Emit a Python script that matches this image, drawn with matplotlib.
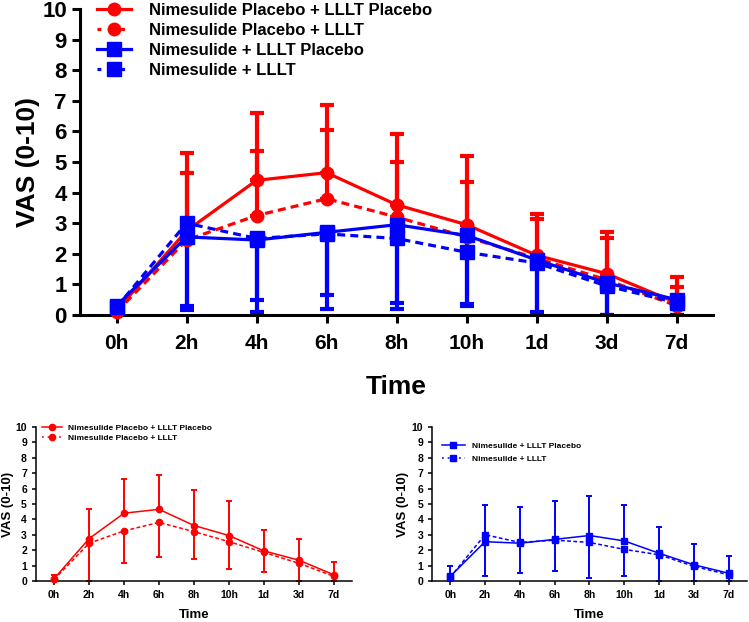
import numpy as np
import matplotlib
matplotlib.use("Agg")
import matplotlib.pyplot as plt
from matplotlib.lines import Line2D

plt.rcParams['font.family'] = ['Liberation Sans', 'DejaVu Sans']
plt.rcParams['font.weight'] = 'bold'

# time points
time_labels = ["0h", "2h", "4h", "6h", "8h", "10h", "1d", "3d", "7d"]

# Nimesulide Placebo + LLLT Placebo
red_solid_mean = [0.15, 2.75, 4.40, 4.65, 3.60, 2.95, 1.95, 1.35, 0.40]
red_solid_sd = [0.25, 1.90, 2.20, 2.20, 2.30, 2.25, 1.35, 1.35, 0.85]
# Nimesulide Placebo + LLLT
red_dash_mean = [0.10, 2.45, 3.25, 3.80, 3.20, 2.55, 1.85, 1.15, 0.30]
red_dash_sd = [0.30, 2.85, 2.10, 2.25, 1.80, 1.80, 1.30, 1.35, 0.60]
# Nimesulide + LLLT Placebo
blue_solid_mean = [0.30, 2.55, 2.45, 2.70, 2.95, 2.60, 1.80, 1.05, 0.50]
blue_solid_sd = [0.65, 2.40, 2.35, 2.50, 2.55, 2.30, 1.70, 1.35, 1.15]
# Nimesulide + LLLT
blue_dash_mean = [0.25, 3.00, 2.50, 2.65, 2.50, 2.05, 1.70, 0.95, 0.40]
blue_dash_sd = [0.70, 2.70, 2.00, 2.00, 2.30, 1.70, 1.75, 1.20, 0.60]

labels = ["Nimesulide Placebo + LLLT Placebo", "Nimesulide Placebo + LLLT",
          "Nimesulide + LLLT Placebo", "Nimesulide + LLLT"]

RED = '#ff0000'
BLUE = '#0000ff'
x = np.arange(len(time_labels))


def draw_series(ax, mean, sd, color, marker, dashed, side, lw, ms, elw, cap):
    mean = np.array(mean)
    sd = np.array(sd)
    zeros = np.zeros_like(sd)
    if side == 'up':
        yerr = [zeros, sd]
    else:
        yerr = [np.minimum(sd, mean), zeros]
    ax.errorbar(x, mean, yerr=yerr, fmt='none', ecolor=color, elinewidth=elw,
                capsize=cap, capthick=elw)
    ls = (0, (2.5, 1.6)) if dashed else '-'
    ax.plot(x, mean, color=color, lw=lw, linestyle=ls, marker=marker,
            markersize=ms, clip_on=False, zorder=3)


def style_axes(ax, tick_fs, lab_fs, spine_w, tick_len, ylab_x, xlab_y):
    ax.set_xlim(-0.52, 8.52)
    ax.set_ylim(0, 10)
    ax.set_yticks(range(0, 11))
    ax.set_xticks(x)
    ax.set_xticklabels(time_labels)
    for s in ['top', 'right']:
        ax.spines[s].set_visible(False)
    for s in ['left', 'bottom']:
        ax.spines[s].set_linewidth(spine_w)
    ax.tick_params(width=spine_w, length=tick_len, labelsize=tick_fs)
    for t in ax.get_xticklabels() + ax.get_yticklabels():
        t.set_fontweight('bold')
    ax.set_ylabel("VAS (0-10)", fontsize=lab_fs, fontweight='bold')
    ax.set_xlabel("Time", fontsize=lab_fs, fontweight='bold')
    ax.yaxis.set_label_coords(ylab_x, 0.5)
    ax.xaxis.set_label_coords(0.5, xlab_y)


fig = plt.figure(figsize=(7.49, 6.22), dpi=100)

# ---- top panel: all four groups ----
ax = fig.add_axes([0.107, 0.4936, 0.845, 0.492])
draw_series(ax, red_solid_mean, red_solid_sd, RED, 'o', False, 'up', 2.3, 9, 3, 5)
draw_series(ax, red_dash_mean, red_dash_sd, RED, 'o', True, 'up', 2.3, 9, 3, 5)
draw_series(ax, blue_solid_mean, blue_solid_sd, BLUE, 's', False, 'down', 2.3, 10, 3, 5)
draw_series(ax, blue_dash_mean, blue_dash_sd, BLUE, 's', True, 'down', 2.3, 10, 3, 5)
style_axes(ax, 16, 19, 2.2, 6, -0.063, -0.196)
ax.tick_params(axis='x', pad=8, labelsize=15)

handles = [
    Line2D([], [], color=RED, lw=2.3, marker='o', markersize=9),
    Line2D([], [], color=RED, lw=2.3, ls=(0, (1.2, 2.5)), marker='o', markersize=9),
    Line2D([], [], color=BLUE, lw=2.3, marker='s', markersize=10),
    Line2D([], [], color=BLUE, lw=2.3, ls=(0, (1.2, 2.5)), marker='s', markersize=10),
]
fig.legend(handles, labels, loc='upper left', bbox_to_anchor=(0.13, 0.995),
           frameon=False, prop={'size': 12, 'weight': 'bold'},
           handlelength=2.0, handletextpad=1.1, labelspacing=0.3,
           borderaxespad=0, borderpad=0)

# ---- bottom left: red groups ----
ax2 = fig.add_axes([0.048, 0.066, 0.422, 0.2476])
draw_series(ax2, red_solid_mean, red_solid_sd, RED, 'o', False, 'up', 1.1, 4.5, 1.4, 2.5)
draw_series(ax2, red_dash_mean, red_dash_sd, RED, 'o', True, 'down', 1.1, 4.5, 1.4, 2.5)
style_axes(ax2, 7.5, 9.5, 1.1, 3, -0.07, -0.185)
h2 = [
    Line2D([], [], color=RED, lw=1.1, marker='o', markersize=4.5),
    Line2D([], [], color=RED, lw=1.1, ls=(0, (1.2, 2.5)), marker='o', markersize=4.5),
]
ax2.legend(h2, labels[:2], loc='upper left', bbox_to_anchor=(0.02, 1.02),
           frameon=False, prop={'size': 6, 'weight': 'bold'},
           handlelength=2.4, handletextpad=0.7, labelspacing=0.3,
           borderaxespad=0, borderpad=0)

# ---- bottom right: blue groups ----
ax3 = fig.add_axes([0.577, 0.066, 0.42, 0.2476])
draw_series(ax3, blue_solid_mean, blue_solid_sd, BLUE, 's', False, 'up', 1.1, 4.5, 1.4, 2.5)
draw_series(ax3, blue_dash_mean, blue_dash_sd, BLUE, 's', True, 'down', 1.1, 4.5, 1.4, 2.5)
style_axes(ax3, 7.5, 9.5, 1.1, 3, -0.073, -0.185)
h3 = [
    Line2D([], [], color=BLUE, lw=1.1, marker='s', markersize=4.5),
    Line2D([], [], color=BLUE, lw=1.1, ls=(0, (1.2, 2.5)), marker='s', markersize=4.5),
]
ax3.legend(h3, labels[2:], loc='upper left', bbox_to_anchor=(0.03, 0.9),
           frameon=False, prop={'size': 6, 'weight': 'bold'},
           handlelength=2.8, handletextpad=0.8, labelspacing=0.6,
           borderaxespad=0, borderpad=0)

fig.savefig("out.png", dpi=100)
